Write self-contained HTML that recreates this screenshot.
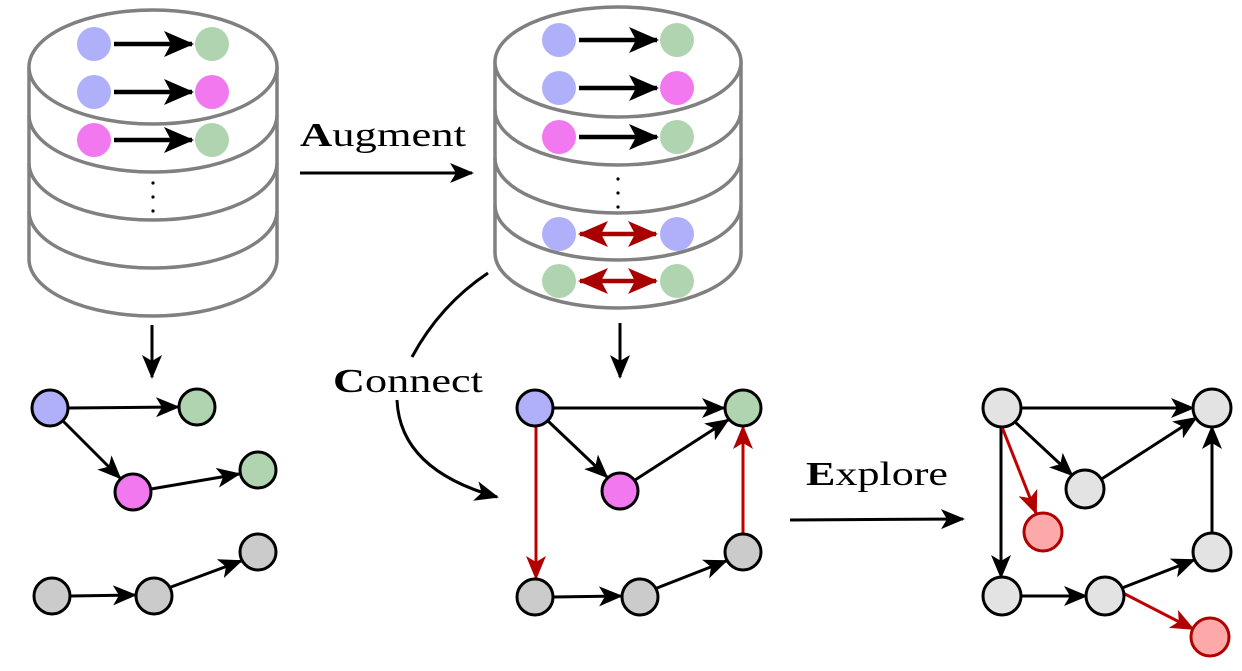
<!DOCTYPE html>
<html><head><meta charset="utf-8"><style>html,body{margin:0;padding:0;background:#fff}</style></head><body>
<svg width="1242" height="666" viewBox="0 0 1242 666" xmlns="http://www.w3.org/2000/svg">
<defs>
<marker id="ab" markerUnits="userSpaceOnUse" markerWidth="24" markerHeight="20" refX="22" refY="10" orient="auto"><path d="M0,0 L24,10 L0,20 L6,10 Z" fill="#000"/></marker>
<marker id="ar" markerUnits="userSpaceOnUse" markerWidth="24" markerHeight="20" refX="22" refY="10" orient="auto"><path d="M0,0 L24,10 L0,20 L6,10 Z" fill="#b00000"/></marker>
<marker id="abig" markerUnits="userSpaceOnUse" markerWidth="30" markerHeight="26" refX="28" refY="13" orient="auto"><path d="M0,0 L30,13 L0,26 L7,13 Z" fill="#000"/></marker>
<marker id="arb" markerUnits="userSpaceOnUse" markerWidth="30" markerHeight="26" refX="28" refY="13" orient="auto"><path d="M0,0 L30,13 L0,26 L7,13 Z" fill="#a80000"/></marker>
<marker id="arbs" markerUnits="userSpaceOnUse" markerWidth="30" markerHeight="26" refX="2" refY="13" orient="auto"><path d="M30,0 L0,13 L30,26 L23,13 Z" fill="#a80000"/></marker>
</defs>
<g fill="#fff" stroke="#808080" stroke-width="3.5">
<path d="M29,67 V259 A124,57 0 0 0 277,259 V67"/>
<path d="M29,115 A124,57 0 0 0 277,115" fill="none"/>
<path d="M29,163 A124,57 0 0 0 277,163" fill="none"/>
<path d="M29,211 A124,57 0 0 0 277,211" fill="none"/>
<ellipse cx="153" cy="67" rx="124" ry="57"/>
<path d="M495,62 V253 A123,55 0 0 0 741,253 V62"/>
<path d="M495,110 A123,55 0 0 0 741,110" fill="none"/>
<path d="M495,158 A123,55 0 0 0 741,158" fill="none"/>
<path d="M495,205 A123,55 0 0 0 741,205" fill="none"/>
<ellipse cx="618" cy="62" rx="123" ry="55"/>
</g>
<g stroke="none">
<circle cx="94" cy="44" r="17" fill="#b0b0fa"/><circle cx="212" cy="44" r="17" fill="#b0d4b0"/>
<circle cx="94" cy="92" r="17" fill="#b0b0fa"/><circle cx="212" cy="92" r="17" fill="#f178ef"/>
<circle cx="94" cy="140" r="17" fill="#f178ef"/><circle cx="212" cy="140" r="17" fill="#b0d4b0"/>
<circle cx="153" cy="183" r="1.6" fill="#000"/><circle cx="153" cy="197" r="1.6" fill="#000"/><circle cx="153" cy="211" r="1.6" fill="#000"/>
<circle cx="559" cy="40" r="17" fill="#b0b0fa"/><circle cx="677" cy="40" r="17" fill="#b0d4b0"/>
<circle cx="559" cy="88" r="17" fill="#b0b0fa"/><circle cx="677" cy="88" r="17" fill="#f178ef"/>
<circle cx="559" cy="137" r="17" fill="#f178ef"/><circle cx="677" cy="137" r="17" fill="#b0d4b0"/>
<circle cx="618" cy="179" r="1.6" fill="#000"/><circle cx="618" cy="193" r="1.6" fill="#000"/><circle cx="618" cy="207" r="1.6" fill="#000"/>
<circle cx="559" cy="234" r="17" fill="#b0b0fa"/><circle cx="677" cy="234" r="17" fill="#b0b0fa"/>
<circle cx="559" cy="281" r="17" fill="#b0d4b0"/><circle cx="677" cy="281" r="17" fill="#b0d4b0"/>
</g>
<g stroke="#000" stroke-width="4.5" fill="none">
<line x1="114" y1="44" x2="192" y2="44" marker-end="url(#abig)"/>
<line x1="114" y1="92" x2="192" y2="92" marker-end="url(#abig)"/>
<line x1="114" y1="140" x2="192" y2="140" marker-end="url(#abig)"/>
<line x1="579" y1="40" x2="657" y2="40" marker-end="url(#abig)"/>
<line x1="579" y1="88" x2="657" y2="88" marker-end="url(#abig)"/>
<line x1="579" y1="137" x2="657" y2="137" marker-end="url(#abig)"/>
</g>
<g stroke="#a80000" stroke-width="4.5" fill="none">
<line x1="580" y1="234" x2="656" y2="234" marker-start="url(#arbs)" marker-end="url(#arb)"/>
<line x1="580" y1="281" x2="656" y2="281" marker-start="url(#arbs)" marker-end="url(#arb)"/>
</g>
<g stroke="#000" stroke-width="3" fill="none">
<line x1="152" y1="325" x2="152" y2="377" marker-end="url(#ab)"/>
<line x1="620" y1="323" x2="620" y2="377" marker-end="url(#ab)"/>
<line x1="300" y1="173" x2="472" y2="173" marker-end="url(#ab)"/>
<line x1="790" y1="520" x2="963" y2="519" marker-end="url(#ab)"/>
<path d="M488,273 Q440,305 412,357"/>
<path d="M397,400 Q400,470 497,497" marker-end="url(#ab)"/>
</g>
<g font-family="Liberation Serif, serif" font-size="34" fill="#000">
<text x="300" y="146" textLength="166" lengthAdjust="spacingAndGlyphs"><tspan font-weight="bold">A</tspan>ugment</text>
<text x="333" y="392" textLength="150" lengthAdjust="spacingAndGlyphs"><tspan font-weight="bold">C</tspan>onnect</text>
<text x="806" y="485" textLength="142" lengthAdjust="spacingAndGlyphs"><tspan font-weight="bold">E</tspan>xplore</text>
</g>
<g stroke="#000" stroke-width="3" fill="none">
<line x1="68" y1="408" x2="178" y2="407" marker-end="url(#ab)"/>
<line x1="63" y1="421" x2="120" y2="478" marker-end="url(#ab)"/>
<line x1="151" y1="489" x2="239" y2="474" marker-end="url(#ab)"/>
<line x1="70" y1="596" x2="135" y2="595" marker-end="url(#ab)"/>
<line x1="171" y1="587" x2="241" y2="561" marker-end="url(#ab)"/>
<line x1="553" y1="408" x2="724" y2="408" marker-end="url(#ab)"/>
<line x1="548" y1="421" x2="607" y2="477" marker-end="url(#ab)"/>
<line x1="635" y1="480" x2="728" y2="420" marker-end="url(#ab)"/>
<line x1="553" y1="597" x2="621" y2="596" marker-end="url(#ab)"/>
<line x1="657" y1="588" x2="726" y2="561" marker-end="url(#ab)"/>
<line x1="1020" y1="408" x2="1193" y2="408" marker-end="url(#ab)"/>
<line x1="1014" y1="421" x2="1072" y2="475" marker-end="url(#ab)"/>
<line x1="1100" y1="480" x2="1196" y2="418" marker-end="url(#ab)"/>
<line x1="1001" y1="427" x2="1001" y2="577" marker-end="url(#ab)"/>
<line x1="1020" y1="596" x2="1086" y2="596" marker-end="url(#ab)"/>
<line x1="1122" y1="588" x2="1194" y2="560" marker-end="url(#ab)"/>
<line x1="1212" y1="533" x2="1212" y2="427" marker-end="url(#ab)"/>
</g>
<g stroke="#c00000" stroke-width="3" fill="none">
<line x1="536" y1="427" x2="536" y2="578" marker-end="url(#ar)"/>
<line x1="743" y1="533" x2="743" y2="427" marker-end="url(#ar)"/>
<line x1="1002" y1="427" x2="1036" y2="513" marker-end="url(#ar)"/>
<line x1="1123" y1="593" x2="1193" y2="629" marker-end="url(#ar)"/>
</g>
<g stroke="#000" stroke-width="3">
<circle cx="50" cy="408" r="18" fill="#b0b0fa"/><circle cx="197" cy="407" r="18" fill="#b0d4b0"/>
<circle cx="133" cy="492" r="18" fill="#f178ef"/><circle cx="258" cy="470" r="18" fill="#b0d4b0"/>
<circle cx="52" cy="596" r="18" fill="#cbcbcb"/><circle cx="154" cy="596" r="18" fill="#cbcbcb"/><circle cx="258" cy="552" r="18" fill="#cbcbcb"/>
<circle cx="535" cy="408" r="18" fill="#b0b0fa"/><circle cx="743" cy="408" r="18" fill="#b0d4b0"/>
<circle cx="620" cy="491" r="18" fill="#f178ef"/>
<circle cx="535" cy="597" r="18" fill="#cbcbcb"/><circle cx="640" cy="597" r="18" fill="#cbcbcb"/><circle cx="743" cy="552" r="18" fill="#cbcbcb"/>
<circle cx="1002" cy="408" r="19" fill="#e3e3e3"/><circle cx="1212" cy="408" r="19" fill="#e3e3e3"/>
<circle cx="1085" cy="489" r="19" fill="#e3e3e3"/>
<circle cx="1002" cy="596" r="19" fill="#e3e3e3"/><circle cx="1105" cy="596" r="19" fill="#e3e3e3"/><circle cx="1212" cy="552" r="19" fill="#e3e3e3"/>
</g>
<g stroke="#b00000" stroke-width="3" fill="#fda9a9">
<circle cx="1043" cy="532" r="19"/><circle cx="1210" cy="637" r="19"/>
</g>
</svg>
</body></html>
